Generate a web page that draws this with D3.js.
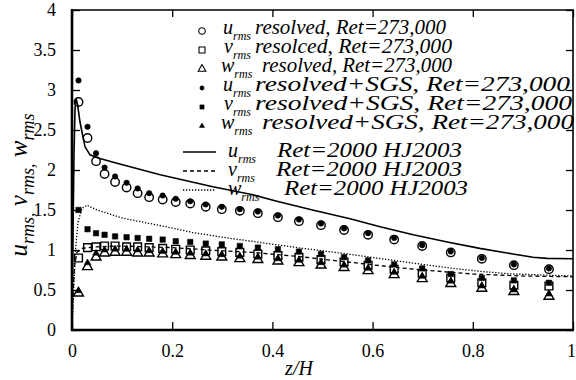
<!DOCTYPE html>
<html><head><meta charset="utf-8">
<script src="https://cdn.jsdelivr.net/npm/d3@7"></script>
<style>
body{margin:0;background:#fff}
svg{display:block}
text{font-family:"Liberation Serif","Times New Roman",serif;fill:#000}
</style>
</head><body>
<svg id="c" width="576" height="380"></svg>
<script>
// ---- data ----
const zGrid = [0.013,0.031,0.048,0.065,0.086,0.109,0.131,0.154,0.181,0.207,0.236,0.267,0.299,0.335,0.371,0.411,0.453,0.497,0.543,0.591,0.643,0.699,0.756,0.818,0.882,0.952];
const uRes = [2.85,2.40,2.11,1.95,1.85,1.78,1.71,1.66,1.63,1.60,1.58,1.54,1.51,1.49,1.46,1.41,1.36,1.31,1.25,1.19,1.13,1.05,0.97,0.89,0.81,0.76];
const vRes = [0.90,1.03,1.04,1.05,1.05,1.04,1.04,1.03,1.02,1.01,1.00,0.99,0.98,0.97,0.95,0.93,0.91,0.88,0.85,0.81,0.76,0.71,0.65,0.59,0.56,0.55];
const wRes = [0.46,0.79,0.91,0.96,0.97,0.97,0.96,0.96,0.95,0.94,0.93,0.92,0.91,0.89,0.88,0.86,0.84,0.81,0.78,0.74,0.69,0.64,0.58,0.52,0.48,0.42];
const uSgs = [3.12,2.54,2.21,2.03,1.92,1.84,1.77,1.71,1.68,1.64,1.61,1.57,1.54,1.51,1.48,1.43,1.38,1.33,1.27,1.21,1.15,1.06,0.98,0.90,0.82,0.77];
const vSgs = [1.50,1.26,1.21,1.19,1.17,1.16,1.15,1.14,1.13,1.11,1.10,1.08,1.07,1.05,1.03,1.01,0.98,0.95,0.91,0.87,0.82,0.77,0.70,0.65,0.62,0.59];
const wSgs = [0.49,0.84,0.96,1.00,1.01,1.01,1.00,0.99,0.98,0.97,0.96,0.95,0.94,0.92,0.91,0.89,0.87,0.84,0.81,0.77,0.72,0.67,0.61,0.55,0.50,0.45];

const uLineZ = [0,0.002,0.004,0.006,0.008,0.011,0.016,0.022,0.026,0.036,0.052,0.086,0.176,0.281,0.361,0.409,0.48,0.555,0.615,0.681,0.749,0.814,0.880,0.920,0.948,1.0];
const uLineV = [0,1.2,2.2,2.75,2.9,2.82,2.6,2.41,2.29,2.19,2.15,2.09,1.94,1.79,1.69,1.61,1.50,1.39,1.29,1.19,1.10,1.02,0.95,0.91,0.895,0.89];
const vLineZ = [0,0.002,0.005,0.01,0.02,0.05,0.1,0.2,0.3,0.36,0.45,0.55,0.65,0.7,0.8,0.9,1.0];
const vLineV = [0,0.45,0.8,0.97,1.02,1.04,1.05,1.03,0.99,0.97,0.92,0.85,0.78,0.75,0.70,0.675,0.665];
const wLineZ = [0,0.002,0.004,0.007,0.012,0.02,0.03,0.05,0.1,0.18,0.24,0.3,0.38,0.45,0.55,0.63,0.7,0.76,0.82,0.88,1.0];
const wLineV = [0,0.3,0.6,1.0,1.35,1.52,1.56,1.50,1.40,1.30,1.22,1.16,1.09,1.03,0.95,0.88,0.82,0.77,0.73,0.70,0.675];

const xTicks = [0,0.2,0.4,0.6,0.8,1];
const xTickLabels = ["0","0.2","0.4","0.6","0.8","1"];
const yTicks = [0,0.5,1,1.5,2,2.5,3,3.5,4];
const yTickLabels = ["0","0.5","1","1.5","2","2.5","3","3.5","4"];

const legendLetters = ["u","v","w","u","v","w","u","v","w"];
const legendRest = ["resolved, Ret=273,000","resolced, Ret=273,000","resolved, Ret=273,000",
  "resolved+SGS, Ret=273,000","resolved+SGS, Ret=273,000","resolved+SGS, Ret=273,000",
  "Ret=2000 HJ2003","Ret=2000 HJ2003","Ret=2000 HJ2003"];

// ---- layout ----
const svg = d3.select("#c");
const x = d3.scaleLinear().domain([0,1]).range([72,573]);
const y = d3.scaleLinear().domain([0,4]).range([330,10]);

svg.append("defs").append("clipPath").attr("id","pc").append("rect")
  .attr("x",72).attr("y",10).attr("width",501).attr("height",320);

// axes
const fontSz = 18;
const gB = svg.append("g").attr("transform","translate(0,330)")
  .call(d3.axisBottom(x).tickValues(xTicks).tickSize(-8).tickPadding(14).tickFormat((d,i)=>xTickLabels[i]));
const gL = svg.append("g").attr("transform","translate(72,0)")
  .call(d3.axisLeft(y).tickValues(yTicks).tickSize(-8).tickPadding(16).tickFormat((d,i)=>yTickLabels[i]));
const gT = svg.append("g").attr("transform","translate(0,10)")
  .call(d3.axisTop(x).tickValues(xTicks).tickSize(-7).tickFormat(""));
const gR = svg.append("g").attr("transform","translate(573,0)")
  .call(d3.axisRight(y).tickValues(yTicks).tickSize(-7).tickFormat(""));
[gB,gL,gT,gR].forEach(g=>{
  g.select(".domain").remove();
  g.selectAll(".tick line").attr("stroke","#000").attr("stroke-width",1.3);
  g.selectAll(".tick text").attr("font-size",fontSz).attr("font-family","Liberation Serif").attr("fill","#000");
});
gB.selectAll(".tick text").filter((d)=>d===1).attr("dx",-2);

// frame
svg.append("line").attr("x1",72).attr("x2",72).attr("y1",9).attr("y2",331).attr("stroke","#000").attr("stroke-width",2.6);
svg.append("line").attr("x1",71).attr("x2",574).attr("y1",330).attr("y2",330).attr("stroke","#000").attr("stroke-width",2.4);
svg.append("line").attr("x1",72).attr("x2",574).attr("y1",10).attr("y2",10).attr("stroke","#000").attr("stroke-width",1.6);
svg.append("line").attr("x1",573).attr("x2",573).attr("y1",10).attr("y2",330).attr("stroke","#000").attr("stroke-width",1.6);

const plot = svg.append("g").attr("clip-path","url(#pc)");

const line = d3.line().x(d=>x(d[0])).y(d=>y(d[1]));
function drawLine(zs, vs, dash, w){
  plot.append("path").datum(zs.map((z,i)=>[z,vs[i]]))
    .attr("d",line).attr("fill","none").attr("stroke","#000")
    .attr("stroke-width",w).attr("stroke-dasharray",dash);
}

const markerStyles = [
  {type:d3.symbolCircle, size:56, fill:"none"},
  {type:d3.symbolSquare, size:60, fill:"none"},
  {type:d3.symbolTriangle, size:42, fill:"none"},
  {type:d3.symbolCircle, size:24, fill:"#000"},
  {type:d3.symbolSquare, size:30, fill:"#000"},
  {type:d3.symbolTriangle, size:20, fill:"#000"}
];
const seriesVals = [uRes,vRes,wRes,uSgs,vSgs,wSgs];
seriesVals.forEach((vals,k)=>{
  const st = markerStyles[k];
  plot.append("g").selectAll("path").data(zGrid.map((z,i)=>[z,vals[i]])).join("path")
    .attr("transform",d=>`translate(${x(d[0])},${y(d[1])})`)
    .attr("d",d3.symbol().type(st.type).size(st.size))
    .attr("fill",st.fill).attr("stroke","#000").attr("stroke-width",st.fill==="none"?1.4:0.5);
});

drawLine(uLineZ,uLineV,null,1.6);
drawLine(vLineZ,vLineV,"4,3",1.3);
drawLine(wLineZ,wLineV,"1.3,1.7",1.3);

// legend
const rowBase = [34,53,72,91,110,129,157,176,195];
const letterX = [223,224,221,223,224,221,228,228,228];
const restX0 = [255,255,262,255,255,262,277,276,284];
const restX1 = [446,452,452,570,572,574,462,462,468];
const lg = svg.append("g");
legendLetters.forEach((L,i)=>{
  const b = rowBase[i];
  if(i<6){
    const st = markerStyles[i];
    lg.append("path").attr("transform",`translate(202,${b-3})`)
      .attr("d",d3.symbol().type(st.type).size(st.size*0.6))
      .attr("fill",st.fill).attr("stroke","#000").attr("stroke-width",st.fill==="none"?1.1:0.5);
  } else {
    const dash = [null,"4,3","1.3,1.7"][i-6];
    lg.append("line").attr("x1",183).attr("x2",216).attr("y1",b-5).attr("y2",b-5)
      .attr("stroke","#000").attr("stroke-width",i===6?1.6:1.3).attr("stroke-dasharray",dash);
  }
  const t = lg.append("text").attr("x",letterX[i]).attr("y",b).attr("font-size",20).attr("font-style","italic");
  t.append("tspan").text(L);
  t.append("tspan").attr("dy",6).attr("font-size",12).text("rms");
  lg.append("text").attr("x",restX0[i]).attr("y",b).attr("font-size",20).attr("font-style","italic")
    .attr("textLength",restX1[i]-restX0[i]).attr("lengthAdjust","spacingAndGlyphs").text(legendRest[i]);
});

// axis titles
svg.append("text").attr("x",299).attr("y",375).attr("text-anchor","middle")
  .attr("font-size",20).attr("font-style","italic").text("z/H");
const yl = svg.append("text").attr("transform","translate(27,185) rotate(-90)")
  .attr("text-anchor","middle").attr("font-size",25).attr("font-style","italic");
yl.append("tspan").text("u");
yl.append("tspan").attr("dy",7).attr("font-size",18).text("rms,");
yl.append("tspan").attr("dy",-7).text(" v");
yl.append("tspan").attr("dy",7).attr("font-size",18).text("rms,");
yl.append("tspan").attr("dy",-7).text(" w");
yl.append("tspan").attr("dy",7).attr("font-size",18).text("rms");
</script>
</body></html>
